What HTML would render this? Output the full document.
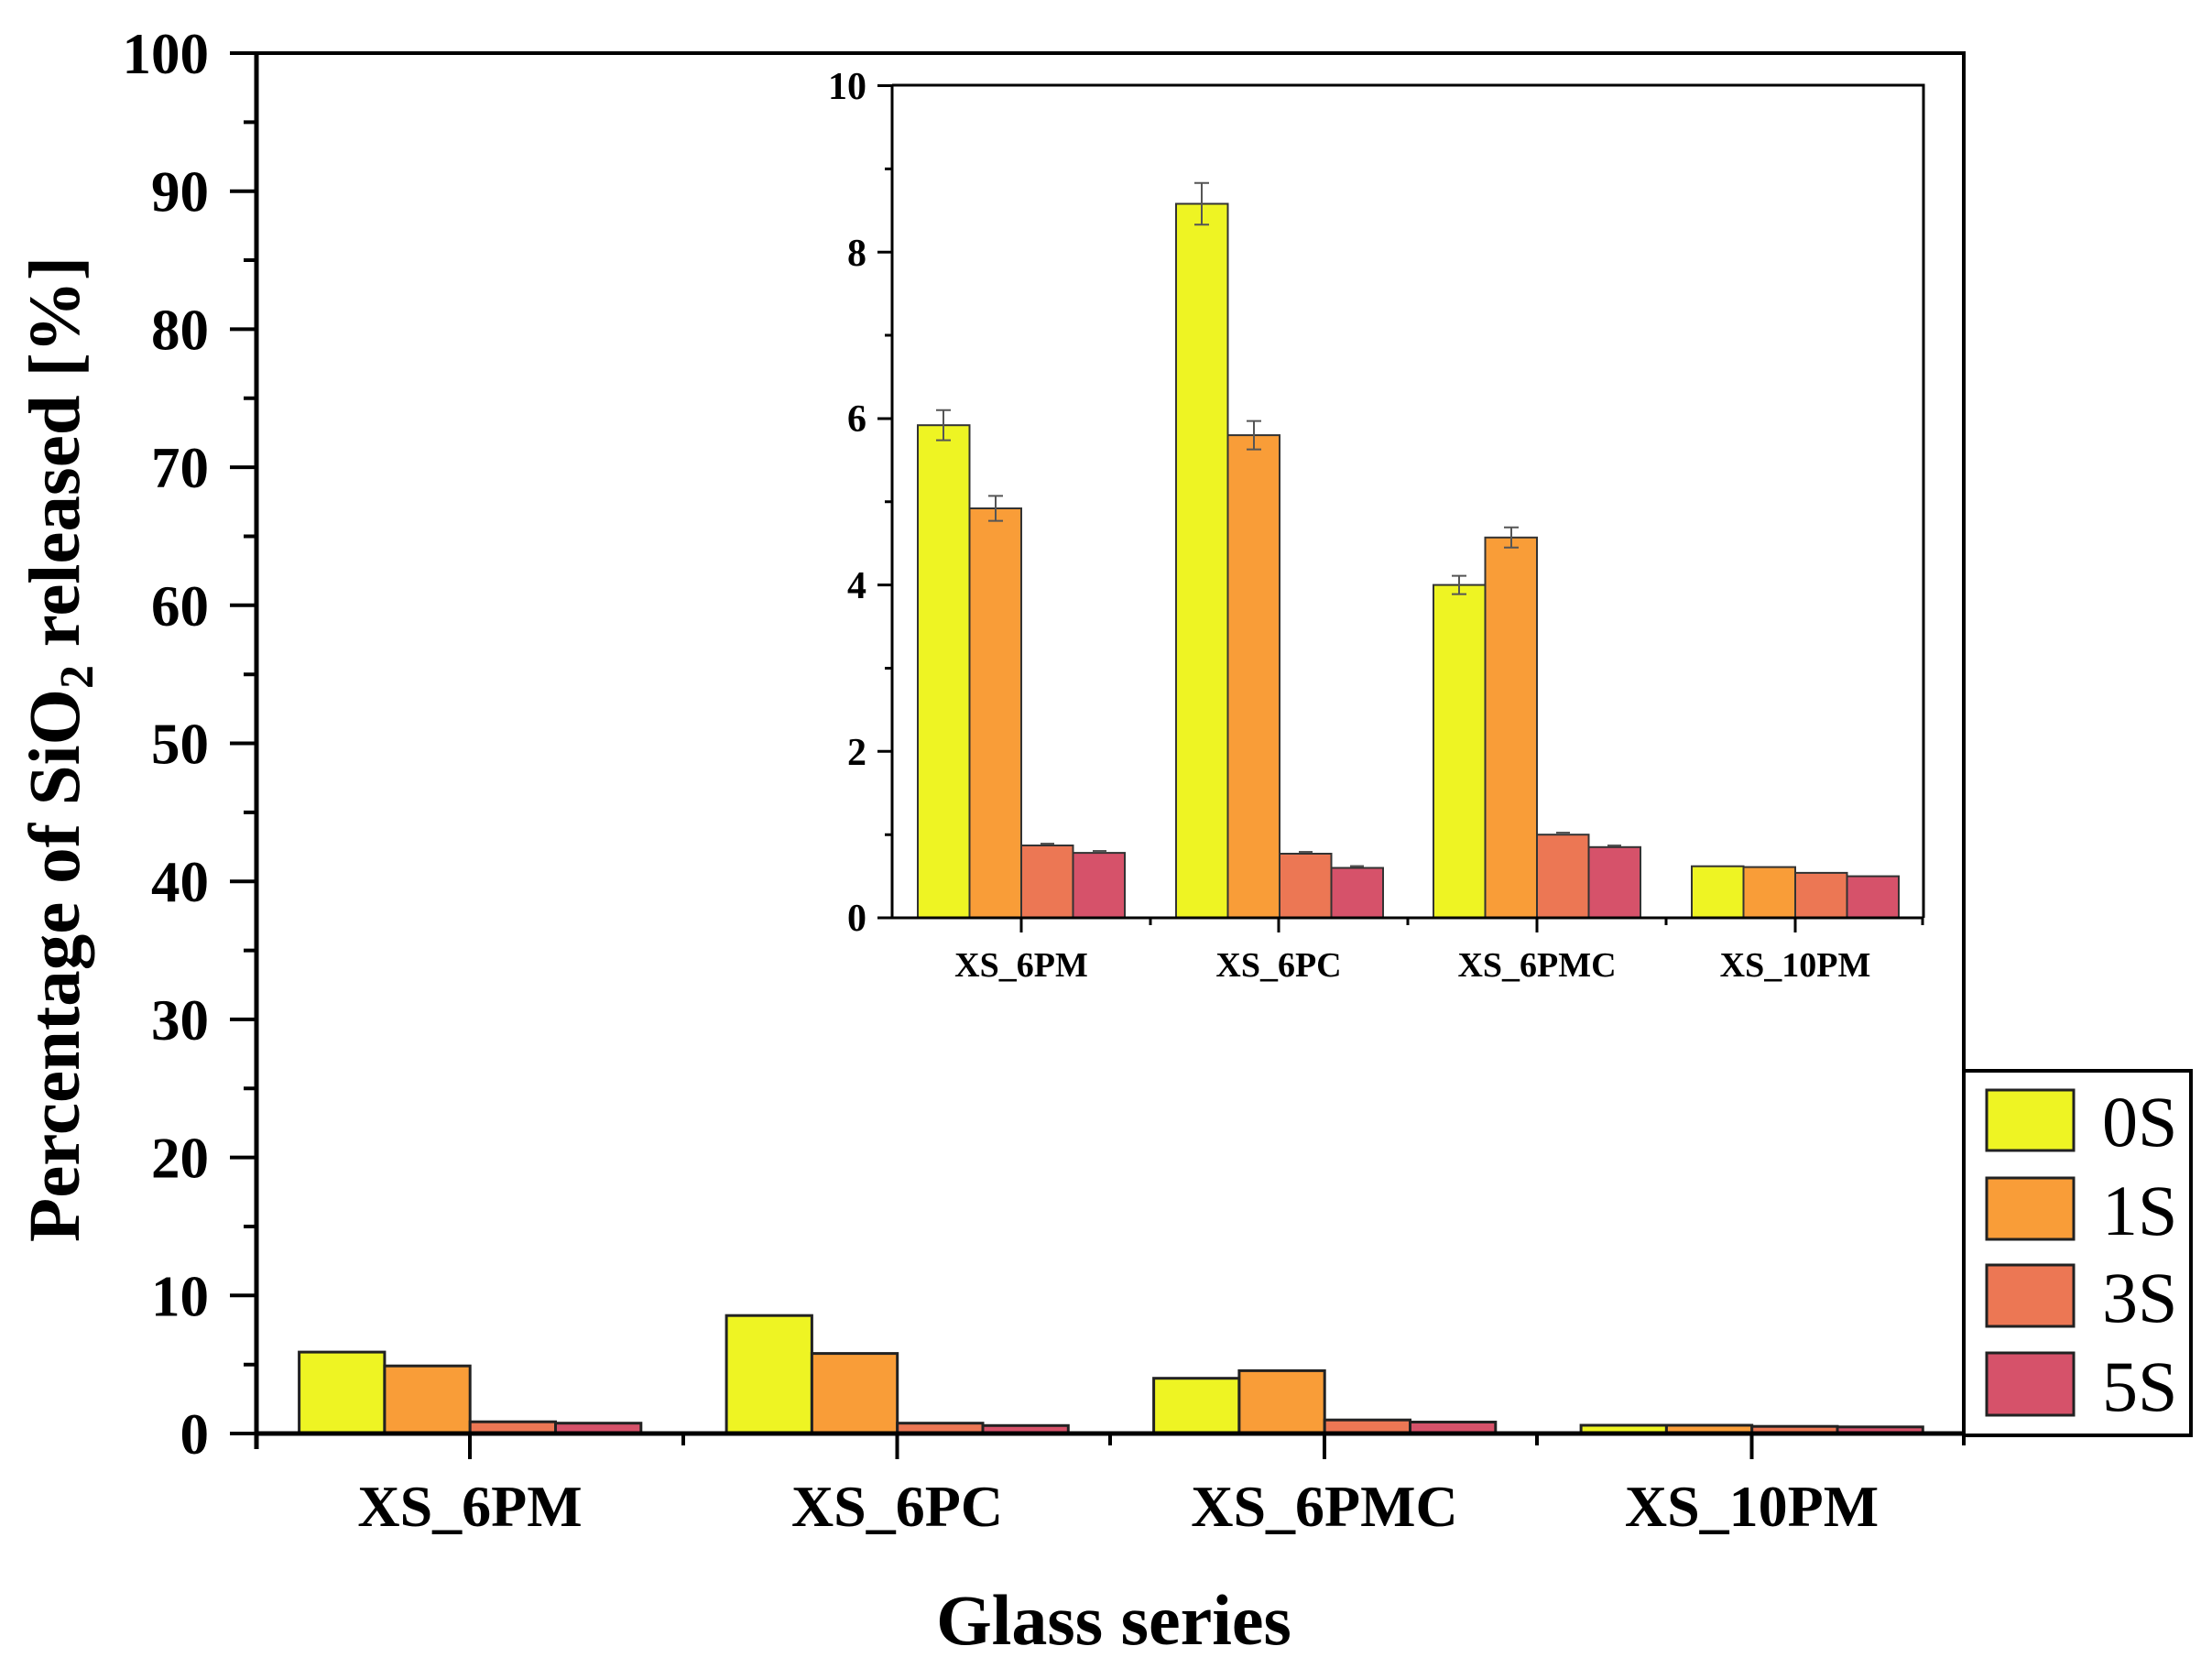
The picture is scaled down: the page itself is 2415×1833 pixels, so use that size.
<!DOCTYPE html>
<html><head><meta charset="utf-8"><style>html,body{margin:0;padding:0;background:#fff}svg{display:block}</style></head>
<body>
<svg width="2415" height="1833" viewBox="0 0 2415 1833" xmlns="http://www.w3.org/2000/svg" font-family="'Liberation Serif', serif" font-weight="bold">
<rect width="2415" height="1833" fill="#fff"/>
<g stroke="#222" stroke-width="3">
<rect x="326.6" y="1476.1" width="93.3" height="88.9" fill="#eef423"/>
<rect x="419.9" y="1491.2" width="93.3" height="73.8" fill="#f99d38"/>
<rect x="513.2" y="1552.2" width="93.3" height="12.8" fill="#ec7754"/>
<rect x="606.5" y="1553.7" width="93.3" height="11.3" fill="#d6526a"/>
<rect x="793.1" y="1436.2" width="93.3" height="128.8" fill="#eef423"/>
<rect x="886.4" y="1477.6" width="93.3" height="87.4" fill="#f99d38"/>
<rect x="979.7" y="1553.7" width="93.3" height="11.3" fill="#ec7754"/>
<rect x="1073" y="1556.3" width="93.3" height="8.7" fill="#d6526a"/>
<rect x="1259.6" y="1504.7" width="93.3" height="60.3" fill="#eef423"/>
<rect x="1352.9" y="1496.4" width="93.3" height="68.6" fill="#f99d38"/>
<rect x="1446.2" y="1550.2" width="93.3" height="14.8" fill="#ec7754"/>
<rect x="1539.5" y="1552.5" width="93.3" height="12.5" fill="#d6526a"/>
<rect x="1726.1" y="1556" width="93.3" height="9" fill="#eef423"/>
<rect x="1819.4" y="1556" width="93.3" height="9" fill="#f99d38"/>
<rect x="1912.7" y="1557.2" width="93.3" height="7.8" fill="#ec7754"/>
<rect x="2006" y="1557.8" width="93.3" height="7.2" fill="#d6526a"/>
</g>
<g stroke="#000" fill="none">
<path d="M280 58 H2144 V1565" stroke-width="4"/>
<path d="M280 56 V1582 M278 1565 H2146" stroke-width="5"/>
<path d="M251 58H280 M251 208.7H280 M251 359.4H280 M251 510.1H280 M251 660.8H280 M251 811.5H280 M251 962.2H280 M251 1112.9H280 M251 1263.6H280 M251 1414.3H280 M251 1565H280" stroke-width="4"/>
<path d="M266 133.4H280 M266 284H280 M266 434.8H280 M266 585.5H280 M266 736.2H280 M266 886.9H280 M266 1037.6H280 M266 1188.3H280 M266 1339H280 M266 1489.7H280" stroke-width="4"/>
<path d="M513 1565V1593 M979.5 1565V1593 M1446 1565V1593 M1912.5 1565V1593 M746 1565V1578 M1212 1565V1578 M1678 1565V1578 M2144 1565V1578" stroke-width="4"/>
</g>
<g font-size="63" text-anchor="end">
<text x="228" y="80">100</text><text x="228" y="230.7">90</text><text x="228" y="381.4">80</text><text x="228" y="532.1">70</text><text x="228" y="682.8">60</text><text x="228" y="833.5">50</text><text x="228" y="984.2">40</text><text x="228" y="1134.9">30</text><text x="228" y="1285.6">20</text><text x="228" y="1436.3">10</text><text x="228" y="1587">0</text>
</g>
<g font-size="64" text-anchor="middle">
<text x="513" y="1666">XS_6PM</text><text x="979.5" y="1666">XS_6PC</text><text x="1446" y="1666">XS_6PMC</text><text x="1912.5" y="1666">XS_10PM</text>
</g>
<text x="1216" y="1795" font-size="78" text-anchor="middle">Glass series</text>
<text transform="translate(86,818) rotate(-90)" font-size="79" text-anchor="middle">Percentage of SiO<tspan font-size="52" dy="15">2</tspan><tspan dy="-15"> released [%]</tspan></text>
<rect x="974" y="93" width="1126" height="909" fill="#fff"/>
<g stroke="#333" stroke-width="2">
<rect x="1002" y="464.2" width="56.5" height="537.8" fill="#eef423"/>
<rect x="1058.5" y="555" width="56.5" height="447" fill="#f99d38"/>
<rect x="1115" y="923" width="56.5" height="79" fill="#ec7754"/>
<rect x="1171.5" y="931.1" width="56.5" height="70.9" fill="#d6526a"/>
<rect x="1284" y="222.5" width="56.5" height="779.5" fill="#eef423"/>
<rect x="1340.5" y="475.1" width="56.5" height="526.9" fill="#f99d38"/>
<rect x="1397" y="932" width="56.5" height="70" fill="#ec7754"/>
<rect x="1453.5" y="947.5" width="56.5" height="54.5" fill="#d6526a"/>
<rect x="1565" y="638.6" width="56.5" height="363.4" fill="#eef423"/>
<rect x="1621.5" y="586.8" width="56.5" height="415.2" fill="#f99d38"/>
<rect x="1678" y="911.2" width="56.5" height="90.8" fill="#ec7754"/>
<rect x="1734.5" y="924.8" width="56.5" height="77.2" fill="#d6526a"/>
<rect x="1847" y="945.7" width="56.5" height="56.3" fill="#eef423"/>
<rect x="1903.5" y="946.6" width="56.5" height="55.4" fill="#f99d38"/>
<rect x="1960" y="952.9" width="56.5" height="49.1" fill="#ec7754"/>
<rect x="2016.5" y="956.6" width="56.5" height="45.4" fill="#d6526a"/>
</g>
<g stroke="#555" stroke-width="2" fill="none">
<path d="M1030 447.8V480.6 M1022 447.8H1038 M1022 480.6H1038"/>
<path d="M1087 541.4V568.6 M1079 541.4H1095 M1079 568.6H1095"/>
<path d="M1312 199.8V245.2 M1304 199.8H1320 M1304 245.2H1320"/>
<path d="M1369 459.6V490.6 M1361 459.6H1377 M1361 490.6H1377"/>
<path d="M1593 628.6V648.6 M1585 628.6H1601 M1585 648.6H1601"/>
<path d="M1650 575.8V597.8 M1642 575.8H1658 M1642 597.8H1658"/>
<path d="M1136 921H1151 M1193 929H1208 M1418 930H1433 M1474 945.5H1489 M1699 909H1714 M1755 923H1770"/>
</g>
<g stroke="#000" fill="none" stroke-width="3">
<path d="M974 93H2100V1002 M974 92V1002 H2100"/>
<path d="M958 93.5H974 M958 275.2H974 M958 457H974 M958 638.6H974 M958 820.3H974 M958 1002H974"/>
<path d="M966 184.4H974 M966 366H974 M966 547.8H974 M966 729.5H974 M966 911.2H974"/>
<path d="M1115 1002V1018 M1396 1002V1018 M1678 1002V1018 M1960 1002V1018 M1256 1002V1010 M1537 1002V1010 M1819 1002V1010 M2099 1002V1010"/>
</g>
<g font-size="42" text-anchor="end">
<text x="946" y="108">10</text><text x="946" y="290">8</text><text x="946" y="471">6</text><text x="946" y="653">4</text><text x="946" y="835">2</text><text x="946" y="1016">0</text>
</g>
<g font-size="38" text-anchor="middle">
<text x="1115" y="1066">XS_6PM</text><text x="1396" y="1066">XS_6PC</text><text x="1678" y="1066">XS_6PMC</text><text x="1960" y="1066">XS_10PM</text>
</g>
<rect x="2144" y="1169" width="248" height="398" fill="#fff" stroke="#000" stroke-width="4"/>
<g stroke="#222" stroke-width="3">
<rect x="2169" y="1190" width="95" height="66" fill="#eef423"/>
<rect x="2169" y="1286" width="95" height="67" fill="#f99d38"/>
<rect x="2169" y="1381" width="95" height="67" fill="#ec7754"/>
<rect x="2169" y="1477" width="95" height="68" fill="#d6526a"/>
</g>
<g font-size="78" font-weight="normal">
<text x="2295" y="1251">0S</text><text x="2295" y="1348">1S</text><text x="2295" y="1443">3S</text><text x="2295" y="1540">5S</text>
</g>
</svg>
</body></html>
